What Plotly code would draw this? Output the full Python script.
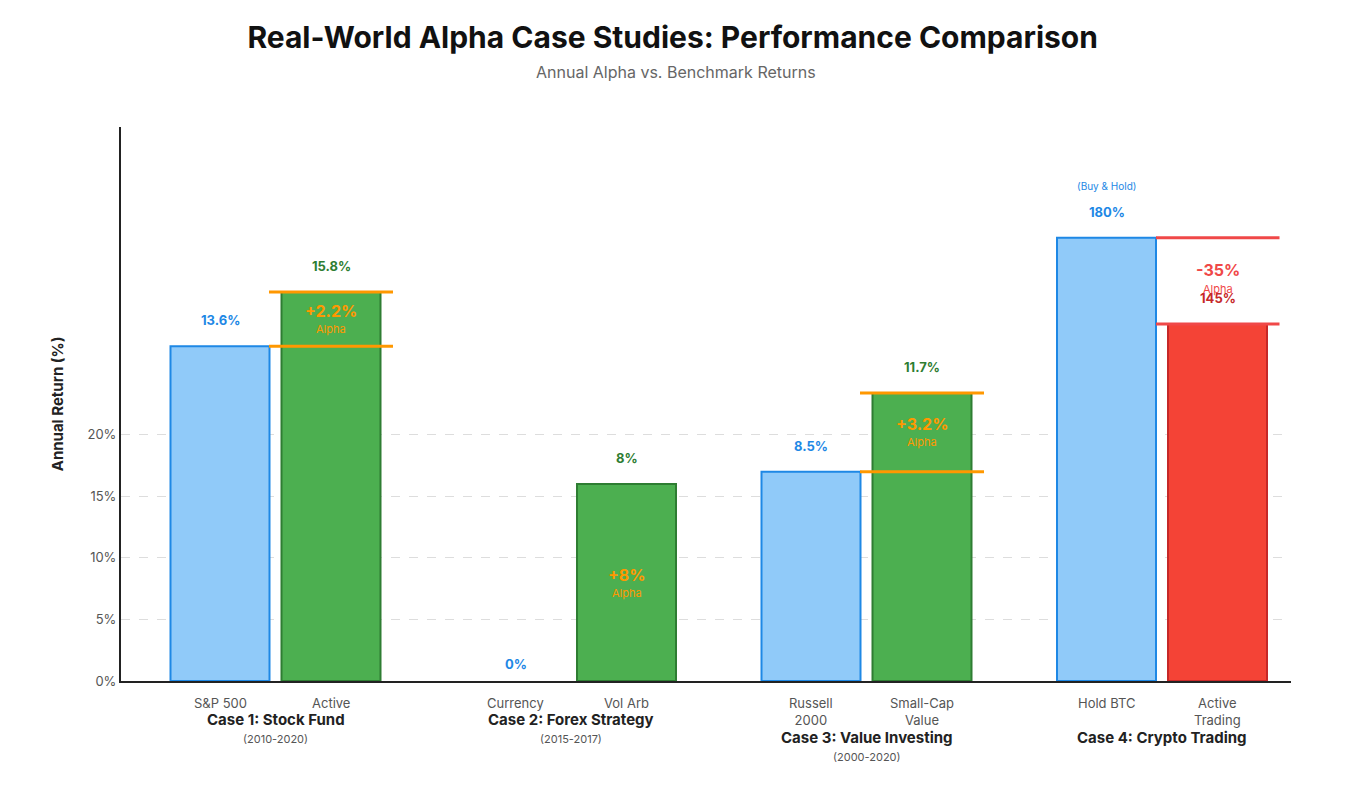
import plotly.graph_objects as go

# data
cases = ["Case 1: Stock Fund", "Case 2: Forex Strategy", "Case 3: Value Investing", "Case 4: Crypto Trading"]
periods = ["(2010-2020)", "(2015-2017)", "(2000-2020)", ""]
bench_names = ["S&P 500", "Currency", "Russell<br>2000", "Hold BTC"]
active_names = ["Active", "Vol Arb", "Small-Cap<br>Value", "Active<br>Trading"]
bench_vals = [13.6, 0, 8.5, 180]
active_vals = [15.8, 8, 11.7, 145]
alpha_vals = [2.2, 8, 3.2, -35]
# visual scale used by the original drawing for each case
scale = [2, 2, 2, 0.2]

BLUE, BLUE_D = "#90CAF9", "#1E88E5"
GREEN, GREEN_D = "#4CAF50", "#2E7D32"
RED, RED_D = "#F44336", "#C62828"
ORANGE = "#FF9800"

# group layout along the x axis
xs = [154.5, 450, 745.5, 1041]
off, w = 55.5, 99

bh = [v * s for v, s in zip(bench_vals, scale)]
ah = [v * s for v, s in zip(active_vals, scale)]

fig = go.Figure()
fig.add_bar(x=[x - off for x in xs], y=bh, width=w,
            marker=dict(color=BLUE, line=dict(color=BLUE_D, width=[2 if v else 0 for v in bh])))
fig.add_bar(x=[x + off for x in xs], y=ah, width=w,
            marker=dict(color=[GREEN, GREEN, GREEN, RED], line=dict(color=[GREEN_D, GREEN_D, GREEN_D, RED_D], width=2)))

ann = []
def txt(x, y, t, color, size, bold=False, yshift=0, xref="x", yref="y", yanchor="middle"):
    ann.append(dict(x=x, y=y, xref=xref, yref=yref, text=f"<b>{t}</b>" if bold else t, showarrow=False,
                    font=dict(color=color, size=size), yshift=yshift, yanchor=yanchor))

for i, xc in enumerate(xs):
    # value labels
    if i in (0, 2):
        txt(xc - off, bh[i], f"{bench_vals[i]:g}%", BLUE_D, 13, True, 26)
    if i < 3:
        txt(xc + off, ah[i], f"{active_vals[i]:g}%", GREEN_D, 13, True, 26)
    # axis labels
    txt(xc - off, 0, bench_names[i], "#555", 13, yshift=-12, yanchor="top")
    txt(xc + off, 0, active_names[i], "#555", 13, yshift=-12, yanchor="top")
    two = "<br>" in bench_names[i] or "<br>" in active_names[i]
    cy = -38 - (18 if two else 0)
    txt(xc, 0, cases[i], "#222", 15, True, cy)
    if periods[i]:
        txt(xc, 0, periods[i], "#555", 11, yshift=cy - 20)

# alpha markers
for i in [0, 2]:
    xa = xs[i] + off
    for h in (bh[i], ah[i]):
        fig.add_shape(type="line", x0=xa - 62, x1=xa + 62, y0=h, y1=h, line=dict(color=ORANGE, width=3))
    mid = (bh[i] + ah[i]) / 2
    txt(xa, mid, f"+{alpha_vals[i]:g}%", ORANGE, 16, True, 8)
    txt(xa, mid, "Alpha", ORANGE, 11, yshift=-10)
txt(xs[1] + off, ah[1] / 2, f"+{alpha_vals[1]:g}%", ORANGE, 16, True, 8)
txt(xs[1] + off, ah[1] / 2, "Alpha", ORANGE, 11, yshift=-10)
txt(xs[1] - off, 0, f"{bench_vals[1]:g}%", BLUE_D, 13, True, 17)

xa = xs[3] + off
for h in (bh[3], ah[3]):
    fig.add_shape(type="line", x0=xs[3] - off + w / 2, x1=xa + 62, y0=h, y1=h, line=dict(color="#F04848", width=3))
txt(xs[3] - off, bh[3], "(Buy & Hold)", BLUE_D, 10, yshift=52)
txt(xs[3] - off, bh[3], f"{bench_vals[3]:g}%", BLUE_D, 13, True, 26)
txt(xa, bh[3], f"{alpha_vals[3]:g}%", "#F04848", 16, True, -32)
txt(xa, bh[3], "Alpha", "#F04848", 11, yshift=-51)
txt(xa, ah[3], f"{active_vals[3]:g}%", RED_D, 13, True, 26)

# subtitle
ann.append(dict(x=0.474, y=1, xref="paper", yref="paper", yshift=67, text="Annual Alpha vs. Benchmark Returns",
                showarrow=False, font=dict(size=16, color="#666")))

fig.update_layout(
    width=1351, height=798, showlegend=False, plot_bgcolor="white", paper_bgcolor="white",
    font=dict(family="Inter, Helvetica, Arial, sans-serif", color="#333"),
    margin=dict(l=113, r=68, t=119, b=125, autoexpand=False),
    title=dict(text="<b>Real-World Alpha Case Studies: Performance Comparison</b>",
               x=0.492, xanchor="center", y=1 - 29 / 798, yanchor="middle", font=dict(size=30, color="#111")),
    xaxis=dict(range=[0, 1170], showticklabels=False, showgrid=False, zeroline=False,
               showline=True, linecolor="#222", linewidth=2),
    yaxis=dict(range=[0, 45], tickvals=[0, 5, 10, 15, 20], ticktext=["0%", "5%", "10%", "15%", "20%"],
               showgrid=True, gridcolor="#DDD", griddash="dash", zeroline=False,
               showline=True, linecolor="#222", linewidth=2, ticks="", tickfont=dict(size=13, color="#555"),
               title=dict(text="<b>Annual Return (%)</b>", font=dict(size=15, color="#222"), standoff=20)),
    annotations=ann,
)
fig.write_html("out.html")
